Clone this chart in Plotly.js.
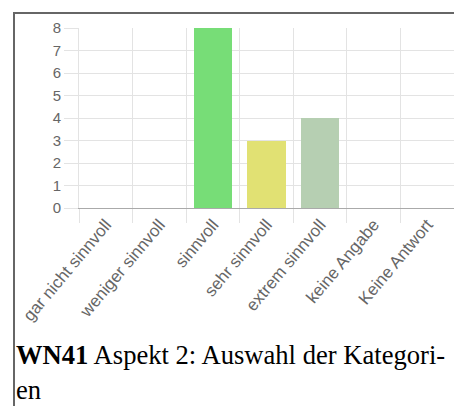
<!DOCTYPE html>
<html>
<head>
<meta charset="utf-8">
<script src="https://cdn.plot.ly/plotly-3.0.1.min.js"></script>
<style>
body { margin: 0; background: #fff; width: 454px; height: 406px; overflow: hidden; position: relative; }
#frame { position: absolute; left: 13px; top: 12px; width: 450px; height: 400px; border-top: 2px solid #666; border-left: 2px solid #666; }
#chart { position: absolute; left: 15px; top: 14px; width: 439px; height: 315px; }
#caption { position: absolute; left: 16px; top: 338px; font-family: 'Liberation Serif', 'Times New Roman', serif; font-size: 26.6px; line-height: 35px; color: #000; white-space: nowrap; }
</style>
</head>
<body>
<div id="frame"></div>
<div id="chart"></div>
<div id="caption"><b>WN41</b> Aspekt 2: Auswahl der Kategori-<br>en</div>
<script>
var categories = [ 'gar nicht sinnvoll', 'weniger sinnvoll', 'sinnvoll', 'sehr sinnvoll', 'extrem sinnvoll', 'keine Angabe', 'Keine Antwort' ];
var counts = [ 0, 0, 8, 3, 4, 0, 0 ];
var bar_colors = [ '#ff8080', '#ffc080', '#77dd77', '#e1e173', '#b6cfb2', '#cccccc', '#cccccc' ];

var data =
[
    {
        type: 'bar',
        x: categories,
        y: counts,
        width: 0.72,
        marker:
        {
            color: bar_colors,
            line: { width: 0 }
        },
        hoverinfo: 'x+y'
    }
];

var y_font = { family: 'Liberation Sans, Arial, sans-serif', size: 15, color: '#666' };
var x_font = { family: 'Liberation Sans, Arial, sans-serif', size: 17, color: '#666' };

var layout =
{
    width: 439,
    height: 315,
    margin: { l: 64, r: 0, t: 14, b: 121 },
    paper_bgcolor: '#fff',
    plot_bgcolor: '#fff',
    showlegend: false,
    bargap: 0,
    xaxis:
    {
        type: 'category',
        tickson: 'boundaries',
        ticks: 'outside',
        ticklen: 14,
        tickcolor: '#e3e3e3',
        ticklabelstandoff: -1,
        showgrid: true,
        gridcolor: '#e3e3e3',
        showline: true,
        linecolor: '#aaa',
        linewidth: 1,
        tickangle: -50,
        tickfont: x_font,
        fixedrange: true
    },
    yaxis:
    {
        range: [ 0, 8 ],
        dtick: 1,
        ticks: 'outside',
        ticklen: 14,
        tickcolor: '#e3e3e3',
        showgrid: true,
        gridcolor: '#e3e3e3',
        zeroline: false,
        showline: true,
        linecolor: '#e3e3e3',
        tickfont: y_font,
        fixedrange: true
    }
};

var config = { displayModeBar: false, staticPlot: true };

Plotly.newPlot( document.getElementById( 'chart' ), data, layout, config );
</script>
</body>
</html>
